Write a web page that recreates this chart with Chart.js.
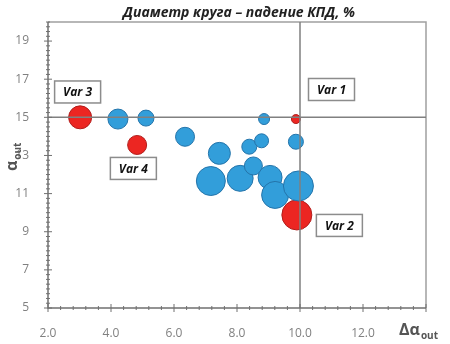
<!DOCTYPE html>
<html>
<head>
<meta charset="utf-8">
<script src="https://cdn.jsdelivr.net/npm/chart.js@4"></script>
<style>
  body { margin: 0; background: #fff; }
</style>
</head>
<body>
<canvas id="bubble_chart" width="450" height="344"></canvas>
<script>
// data: x = delta alpha_out, y = alpha_out, r = circle radius (efficiency drop)
const blueX = [4.22, 5.11, 6.35, 7.44, 7.17, 8.10, 8.52, 8.39, 8.78, 8.86, 9.87, 9.05, 9.21, 9.95];
const blueY = [14.91, 14.96, 13.98, 13.11, 11.66, 11.80, 12.45, 13.46, 13.77, 14.91, 13.72, 11.85, 10.93, 11.40];
const blueR = [10, 8, 9.5, 11, 14.5, 13, 9, 7.5, 7, 5.5, 7.5, 12, 13.5, 15];

const redX = [3.02, 4.83, 9.87, 9.90];
const redY = [15.0, 13.55, 14.91, 9.88];
const redR = [11.5, 9.5, 4.5, 15];

const xTicks = [2, 4, 6, 8, 10, 12];
const yTicks = [5, 7, 9, 11, 13, 15, 17, 19];

const refX = 10;
const refY = 15;

const chartTitle = 'Диаметр круга – падение КПД, %';

// labelled boxes, centre given in data units
const boxLabels = ['Var 3', 'Var 4', 'Var 1', 'Var 2'];
const boxX = [2.94, 4.71, 11.0, 11.25];
const boxY = [16.33, 12.32, 16.46, 9.33];

const toPoints = function(xs, ys, rs) {
    return xs.map((x, i) => ({ x: x, y: ys[i], r: rs[i] }));
}

// title, axis lines, ticks, frame, reference lines, boxes and axis titles
const decorPlugin = {
    id: 'decor',
    afterDatasetsDraw(chart) {
        const ctx = chart.ctx;
        const xs = chart.scales.x;
        const ys = chart.scales.y;
        const area = chart.chartArea;
        ctx.save();

        // title, centred over the plot area
        ctx.fillStyle = '#222';
        ctx.font = 'bold italic 14px "Open Sans"';
        ctx.textAlign = 'center';
        ctx.textBaseline = 'middle';
        ctx.fillText(chartTitle, (area.left + area.right) / 2 + 2, 13);

        // frame top / right
        ctx.strokeStyle = '#a0a0a0';
        ctx.lineWidth = 1.5;
        ctx.beginPath();
        ctx.moveTo(area.left, area.top);
        ctx.lineTo(area.right, area.top);
        ctx.lineTo(area.right, area.bottom);
        ctx.stroke();

        // reference lines
        ctx.strokeStyle = '#808080';
        ctx.lineWidth = 1.5;
        ctx.beginPath();
        const px = xs.getPixelForValue(refX);
        ctx.moveTo(px, area.top);
        ctx.lineTo(px, area.bottom);
        const py = ys.getPixelForValue(refY);
        ctx.moveTo(area.left, py);
        ctx.lineTo(area.right, py);
        ctx.stroke();

        // axes
        ctx.strokeStyle = '#707070';
        ctx.lineWidth = 1.5;
        ctx.beginPath();
        ctx.moveTo(area.left, area.top);
        ctx.lineTo(area.left, area.bottom);
        ctx.lineTo(area.right, area.bottom);
        ctx.stroke();

        // ticks crossing the axes
        ctx.lineWidth = 1;
        ctx.beginPath();
        for (let v = 5; v <= 20.001; v += 0.25) {
            const y = ys.getPixelForValue(v);
            const major = yTicks.includes(Math.round(v * 100) / 100);
            const len = major ? 4 : 2;
            ctx.moveTo(area.left - len, y);
            ctx.lineTo(area.left + len, y);
        }
        for (let v = 2; v <= 14.001; v += 0.4) {
            const x = xs.getPixelForValue(v);
            const major = Math.abs(v - Math.round(v)) < 0.01 && Math.round(v) % 2 === 0;
            const len = major ? 4 : 2;
            ctx.moveTo(x, area.bottom - len);
            ctx.lineTo(x, area.bottom + len);
        }
        ctx.stroke();

        // boxes
        ctx.font = 'bold italic 12px "Open Sans"';
        ctx.textAlign = 'center';
        ctx.textBaseline = 'middle';
        boxLabels.forEach((label, i) => {
            const cx = xs.getPixelForValue(boxX[i]);
            const cy = ys.getPixelForValue(boxY[i]);
            const w = 46, h = 22;
            ctx.fillStyle = '#fff';
            ctx.fillRect(cx - w / 2, cy - h / 2, w, h);
            ctx.strokeStyle = '#8c8c8c';
            ctx.lineWidth = 1.5;
            ctx.strokeRect(cx - w / 2, cy - h / 2, w, h);
            ctx.fillStyle = '#111';
            ctx.fillText(label, cx, cy + 1);
        });

        // axis titles with subscripts
        ctx.fillStyle = '#555';
        ctx.textAlign = 'left';
        ctx.textBaseline = 'alphabetic';
        ctx.font = 'bold 16px "Open Sans"';
        ctx.fillText('Δα', 399, 335);
        let w1 = ctx.measureText('Δα').width;
        ctx.font = 'bold 10px "Open Sans"';
        ctx.fillText('out', 399 + w1 + 1, 339);

        ctx.translate(17, 171);
        ctx.rotate(-Math.PI / 2);
        ctx.font = 'bold 16px "Open Sans"';
        ctx.fillText('α', 0, 0);
        w1 = ctx.measureText('α').width;
        ctx.font = 'bold 10px "Open Sans"';
        ctx.fillText('out', w1 + 1, 4);

        ctx.restore();
    }
}

const ctx = document.getElementById('bubble_chart').getContext('2d');
const bubbleChart = new Chart(ctx, {
    type: 'bubble',
    data: {
        datasets: [{
            label: 'variants',
            data: toPoints(blueX, blueY, blueR),
            backgroundColor: 'rgb(50, 158, 218)',
            borderColor: 'rgb(36, 116, 170)',
            borderWidth: 1
        }, {
            label: 'selected',
            data: toPoints(redX, redY, redR),
            backgroundColor: 'rgb(236, 38, 34)',
            borderColor: 'rgb(176, 30, 28)',
            borderWidth: 1
        }]
    },
    options: {
        responsive: false,
        animation: false,
        devicePixelRatio: 1,
        layout: { padding: { left: 0, right: 24, top: 22, bottom: 0 } },
        plugins: {
            legend: { display: false },
            tooltip: { enabled: false },
            title: { display: false }
        },
        scales: {
            x: {
                type: 'linear',
                min: 2,
                max: 14,
                grid: { display: false },
                border: { display: false },
                afterBuildTicks: function(scale) { scale.ticks = xTicks.map(v => ({ value: v })); },
                afterFit: function(scale) { scale.height = 36; },
                ticks: {
                    color: '#808080',
                    padding: 10,
                    font: { family: '"Open Sans"', size: 12 },
                    callback: function(v) { return v.toFixed(1); }
                }
            },
            y: {
                type: 'linear',
                min: 5,
                max: 20,
                grid: { display: false },
                border: { display: false },
                afterBuildTicks: function(scale) { scale.ticks = yTicks.map(v => ({ value: v })); },
                afterFit: function(scale) { scale.width = 48; },
                ticks: {
                    color: '#808080',
                    padding: 11,
                    font: { family: '"Open Sans"', size: 12 },
                    callback: function(v) { return String(v); }
                }
            }
        }
    },
    plugins: [decorPlugin]
});
</script>
</body>
</html>
